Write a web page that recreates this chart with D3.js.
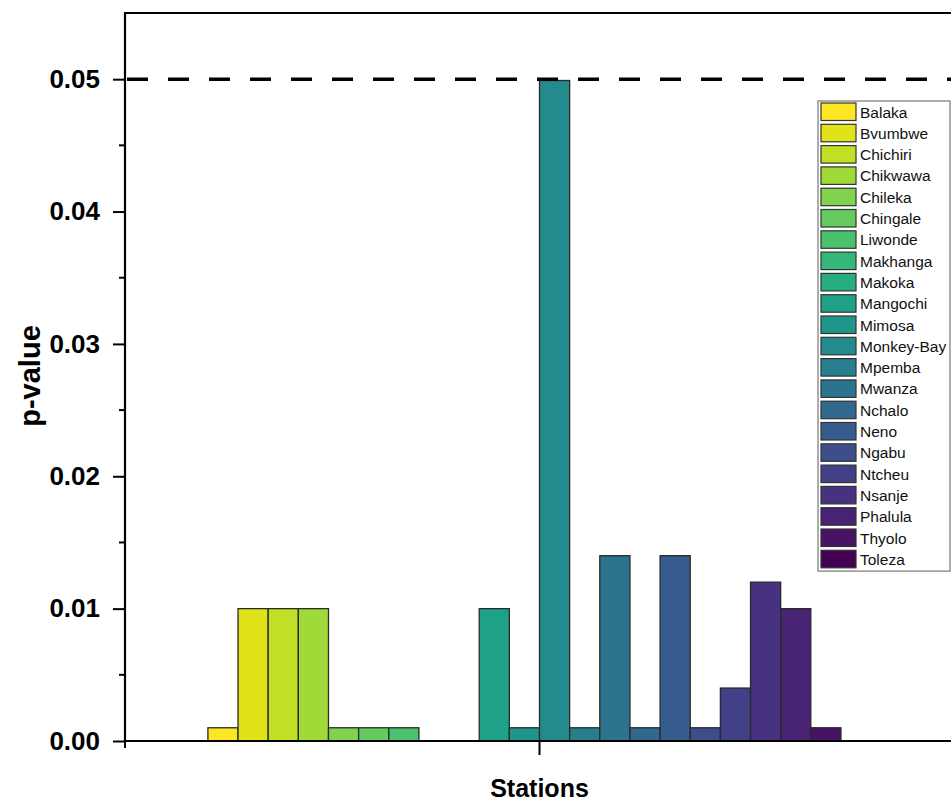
<!DOCTYPE html>
<html>
<head>
<meta charset="utf-8">
<script src="https://cdn.jsdelivr.net/npm/d3@7"></script>
<style>
  html, body { margin: 0; padding: 0; background: #fff; }
  svg { display: block; font-family: "Liberation Sans", Arial, sans-serif; }
</style>
</head>
<body>
<svg id="chart" width="951" height="803"></svg>
<script>
const stations = ["Balaka","Bvumbwe","Chichiri","Chikwawa","Chileka","Chingale","Liwonde","Makhanga","Makoka","Mangochi","Mimosa","Monkey-Bay","Mpemba","Mwanza","Nchalo","Neno","Ngabu","Ntcheu","Nsanje","Phalula","Thyolo","Toleza"];
const pValues = [0.001,0.01,0.01,0.01,0.001,0.001,0.001,0,0,0.01,0.001,0.0499,0.001,0.014,0.001,0.014,0.001,0.004,0.012,0.01,0.001,0];
const yTickValues = [0,0.01,0.02,0.03,0.04,0.05];
const yMinorTicks = [0.005,0.015,0.025,0.035,0.045];
const threshold = 0.05;
const xTitle = "Stations";
const yTitle = "p-value";

const svg = d3.select("#chart");
const plot = {left:125, right:954, top:13, bottom:741};

const x = d3.scaleBand().domain(stations).range([plot.left, plot.right]).paddingInner(0).paddingOuter(2.75);
const y = d3.scaleLinear().domain([0, 0.055]).range([plot.bottom, plot.top]);
const color = d3.scaleOrdinal().domain(stations).range(stations.map((d,i)=>d3.interpolateViridis(1 - i/(stations.length-1))));

// bars
svg.append("g").selectAll("rect").data(stations).join("rect")
  .attr("x", d=>x(d))
  .attr("y", (d,i)=>y(pValues[i]))
  .attr("width", x.bandwidth())
  .attr("height", (d,i)=>y(0)-y(pValues[i]))
  .attr("fill", d=>color(d))
  .attr("stroke", "#2a2a2a")
  .attr("stroke-width", 1.3);

// threshold dashed line
svg.append("line")
  .attr("x1", plot.left+2).attr("x2", 951)
  .attr("y1", y(threshold)).attr("y2", y(threshold))
  .attr("stroke", "#000").attr("stroke-width", 3.5)
  .attr("stroke-dasharray", "21,20");

// frame: top line
svg.append("line").attr("x1", plot.left).attr("x2", plot.right).attr("y1", plot.top).attr("y2", plot.top)
  .attr("stroke","#000").attr("stroke-width",2);

// y axis
const yAxis = d3.axisLeft(y).tickValues(yTickValues).tickFormat(d3.format(".2f")).tickSize(12).tickPadding(13);
const gy = svg.append("g").attr("transform", `translate(${plot.left},0)`).call(yAxis);
gy.select(".domain").remove();
gy.selectAll(".tick line").attr("stroke","#000").attr("stroke-width",2);
gy.selectAll(".tick text").attr("fill","#000").style("font-size","26px").style("font-weight","bold")
  .style("font-family","'Liberation Sans', Arial, sans-serif");
gy.selectAll(".minor").data(yMinorTicks).join("line").attr("class","minor")
  .attr("x1",-6).attr("x2",0).attr("y1",d=>y(d)).attr("y2",d=>y(d))
  .attr("stroke","#000").attr("stroke-width",2);
svg.append("line").attr("x1",plot.left).attr("x2",plot.left).attr("y1",plot.top-1).attr("y2",plot.bottom+1)
  .attr("stroke","#000").attr("stroke-width",2.2);

// x axis
svg.append("line").attr("x1",plot.left).attr("x2",plot.right).attr("y1",plot.bottom).attr("y2",plot.bottom)
  .attr("stroke","#000").attr("stroke-width",2.2);
const xCenter = (x(stations[0]) + x(stations[stations.length-1]) + x.bandwidth())/2;
svg.append("line").attr("x1",xCenter).attr("x2",xCenter).attr("y1",plot.bottom).attr("y2",plot.bottom+14)
  .attr("stroke","#000").attr("stroke-width",2);
svg.append("line").attr("x1",plot.left).attr("x2",plot.left).attr("y1",plot.bottom).attr("y2",plot.bottom+7)
  .attr("stroke","#000").attr("stroke-width",2);

// titles
svg.append("text").attr("x", xCenter).attr("y", 797).attr("text-anchor","middle")
  .style("font-size","25px").style("font-weight","bold").text(xTitle);
svg.append("text").attr("transform","translate(40,376) rotate(-90)").attr("text-anchor","middle")
  .style("font-size","29px").style("font-weight","bold").text(yTitle);

// legend
const lg = svg.append("g");
const lx = 818, ly = 101, rowH = 21.3;
lg.append("rect").attr("x",lx).attr("y",ly).attr("width",132).attr("height",rowH*stations.length+1.5)
  .attr("fill","#fff").attr("stroke","#777").attr("stroke-width",1.2);
const items = lg.selectAll("g.item").data(stations).join("g").attr("class","item")
  .attr("transform",(d,i)=>`translate(${lx+3},${ly+2+i*rowH})`);
items.append("rect").attr("width",35).attr("height",17.5).attr("fill",d=>color(d))
  .attr("stroke","#333").attr("stroke-width",1.2);
items.append("text").attr("x",39).attr("y",9).attr("dy","0.36em")
  .style("font-size","15.5px").attr("fill","#111").text(d=>d);
</script>
</body>
</html>
